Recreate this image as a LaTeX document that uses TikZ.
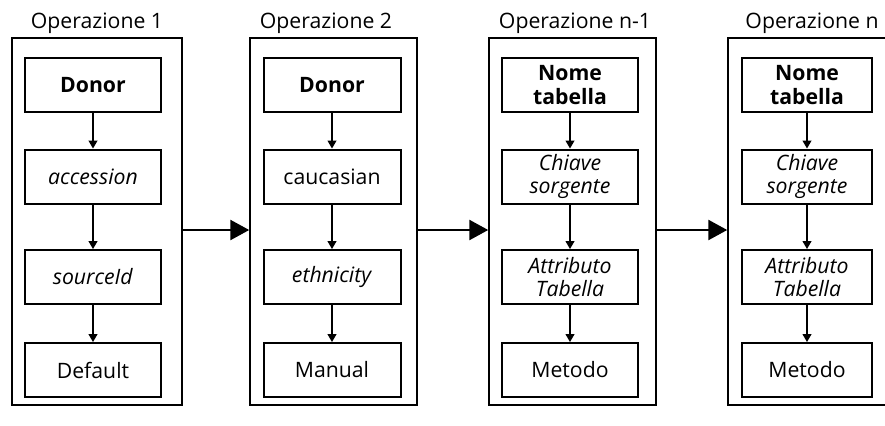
\documentclass[tikz,border=0pt]{standalone}
\usepackage{fontspec}
\setmainfont{Open Sans}
\usetikzlibrary{arrows.meta}
\begin{document}
\begin{tikzpicture}[x=1bp,y=-1bp,
  txt/.style={font=\fontsize{21.3}{23.5}\selectfont},
  opbox/.style={draw, line width=1.5bp, inner sep=0pt, minimum height=367bp},
  title/.style={txt, inner sep=0pt, anchor=base},
  field/.style={draw, line width=2bp, inner sep=0pt, minimum height=54bp,
    align=center, txt},
  link/.style={line width=1.1bp, -{Triangle[length=8bp,width=9bp]}},
  flow/.style={line width=2.6bp, -{Triangle[length=19bp,width=20bp]}}]
\useasboundingbox (0,0) rectangle (885,425);

% operation frames
\node[opbox, minimum width=170bp] (o1) at (97,221.5) {};
\node[opbox, minimum width=167bp] (o2) at (333.5,221.5) {};
\node[opbox, minimum width=167bp] (o3) at (572.5,221.5) {};
\node[opbox, minimum width=162bp] (o4) at (809,221.5) {};

% titles
\node[title] (t1) at (97,28) {Operazione 1};
\node[title] (t2) at (326,28) {Operazione 2};
\node[title] (t3) at (575,28) {Operazione n-1};
\node[title] (t4) at (812,28) {Operazione n};

% column 1
\node[field, minimum width=136bp] (a1) at (93,85) {\textbf{Donor}};
\node[field, minimum width=136bp] (a2) at (93,176.5) {\textit{accession}};
\node[field, minimum width=136bp] (a3) at (93,277) {\textit{sourceId}};
\node[field, minimum width=136bp] (a4) at (93,370) {Default};

% column 2
\node[field, minimum width=137bp] (b1) at (332,85) {\textbf{Donor}};
\node[field, minimum width=137bp] (b2) at (332,176.5) {caucasian};
\node[field, minimum width=137bp] (b3) at (332,277) {\textit{ethnicity}};
\node[field, minimum width=137bp] (b4) at (332,370) {Manual};

% column 3
\node[field, minimum width=136bp] (c1) at (570,85) {\textbf{Nome}\\\textbf{tabella}};
\node[field, minimum width=136bp] (c2) at (570,176.5) {\textit{Chiave}\\\textit{sorgente}};
\node[field, minimum width=136bp] (c3) at (570,277) {\textit{Attributo}\\\textit{Tabella}};
\node[field, minimum width=136bp] (c4) at (570,370) {Metodo};

% column 4
\node[field, minimum width=130bp] (d1) at (807,85) {\textbf{Nome}\\\textbf{tabella}};
\node[field, minimum width=130bp] (d2) at (807,176.5) {\textit{Chiave}\\\textit{sorgente}};
\node[field, minimum width=130bp] (d3) at (807,277) {\textit{Attributo}\\\textit{Tabella}};
\node[field, minimum width=130bp] (d4) at (807,370) {Metodo};

% links inside each frame
\foreach \c in {a,b,c,d}{
  \draw[link] (\c1) -- (\c2);
  \draw[link] (\c2) -- (\c3);
  \draw[link] (\c3) -- (\c4);
}

% flow between frames
\coordinate (lvl) at (0,230);
\draw[flow] (o1.east |- lvl) -- (o2.west |- lvl);
\draw[flow] (o2.east |- lvl) -- (o3.west |- lvl);
\draw[flow] (o3.east |- lvl) -- (o4.west |- lvl);
\end{tikzpicture}
\end{document}
